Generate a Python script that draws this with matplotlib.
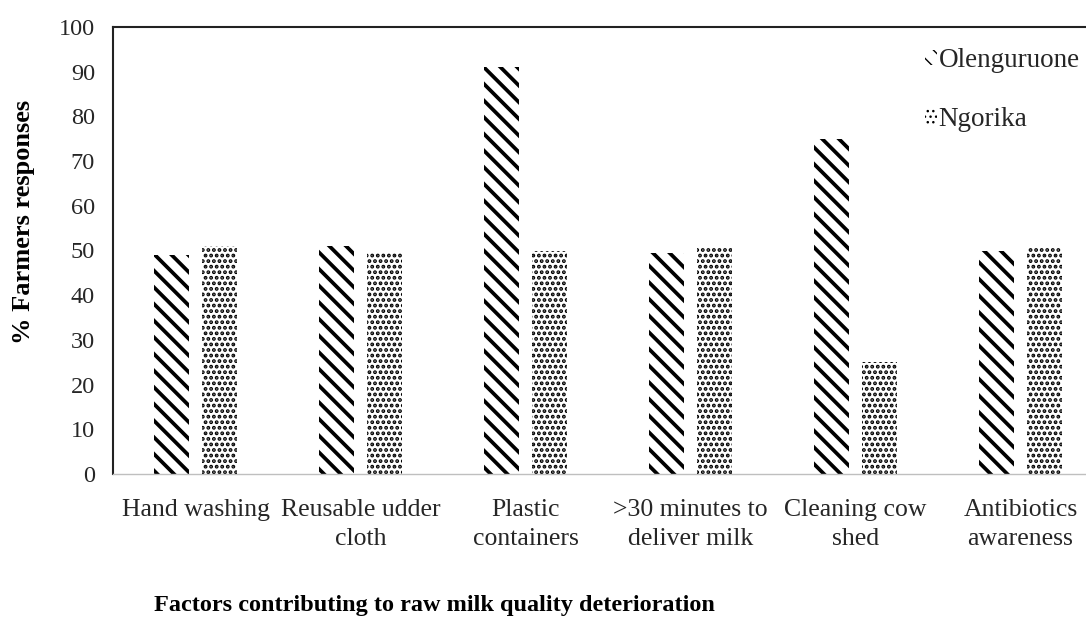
import matplotlib
matplotlib.use("Agg")
import matplotlib.pyplot as plt
import numpy as np

plt.rcParams['font.family'] = ['Liberation Serif', 'DejaVu Serif']

categories = ["Hand washing", "Reusable udder\ncloth", "Plastic\ncontainers",
              ">30 minutes to\ndeliver milk", "Cleaning cow\nshed", "Antibiotics\nawareness"]
olenguruone = [49, 51, 91, 49.5, 75, 50]
ngorika = [51, 49.5, 50, 50.8, 25, 50.5]

fig = plt.figure(figsize=(10.86, 6.18), dpi=100)
ax = fig.add_axes([113 / 1086, 1 - 474 / 618, 990 / 1086, 447 / 618])

x = np.arange(len(categories))
w = 0.215
b1 = ax.bar(x - 0.145, olenguruone, w, color='white', edgecolor='black',
            hatch='\\\\', linewidth=0, label='Olenguruone')
b2 = ax.bar(x + 0.145, ngorika, w, color='white', edgecolor='black',
            hatch='...', linewidth=0, label='Ngorika')
for p in b1:
    if hasattr(p, 'set_hatch_linewidth'):
        p.set_hatch_linewidth(2.7)
for p in b2:
    if hasattr(p, 'set_hatch_linewidth'):
        p.set_hatch_linewidth(1.9)

ax.set_xlim(-0.5, len(categories) - 0.5)
ax.set_ylim(0, 100)
ax.set_yticks(range(0, 101, 10))
ax.set_xticks(x)
ax.set_xticklabels(categories, fontsize=18.5, color='#262626', linespacing=1.4)
ax.tick_params(axis='y', labelsize=17.5, length=0, pad=13, colors='#262626')
ax.tick_params(axis='x', length=0, pad=18)
ax.spines['left'].set_linewidth(1.5)
ax.spines['left'].set_color('#222222')
ax.spines['top'].set_linewidth(1.5)
ax.spines['top'].set_color('#222222')
ax.spines['right'].set_visible(False)
ax.spines['bottom'].set_color('#bfbfbf')
ax.spines['bottom'].set_linewidth(1)

fig.text(24 / 1086, 1 - 222 / 618, '% Farmers responses', rotation=90,
         ha='center', va='center', fontsize=19, fontweight='bold')
fig.text(434 / 1086, 1 - 605 / 618, 'Factors contributing to raw milk quality deterioration',
         ha='center', va='center', fontsize=17.5, fontweight='bold')

leg = ax.legend(loc='upper left', bbox_to_anchor=((914 - 113) / 990, (474 - 37) / 447),
                frameon=False, fontsize=19.5, handlelength=0.45, handleheight=0.5,
                handletextpad=0.05, labelspacing=1.25, borderaxespad=0)
for t in leg.get_texts():
    t.set_color('#262626')

fig.savefig('out.png', dpi=100)
